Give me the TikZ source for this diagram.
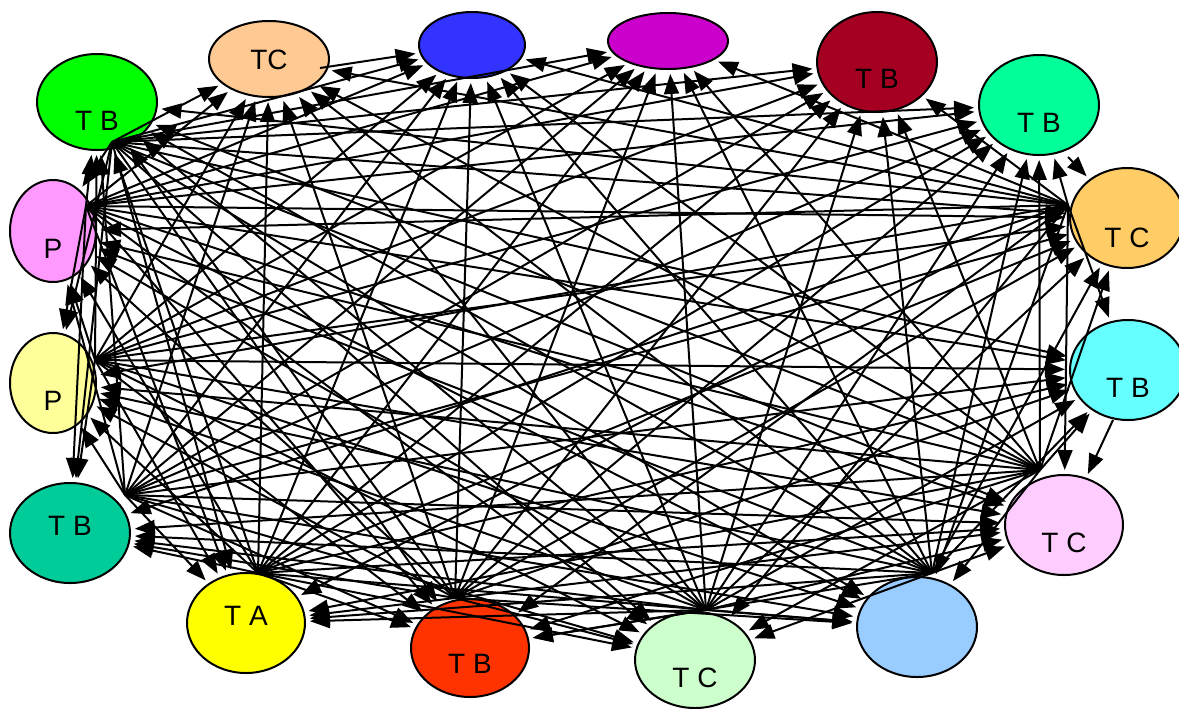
\documentclass[tikz,border=0pt]{standalone}
\usepackage{fontspec}
\setmainfont{Liberation Sans}
\usetikzlibrary{shapes.geometric,arrows.meta}
% text lowered by #1 pt below the node centre, taking no vertical space
\newcommand\lowered[2]{\raisebox{-#1pt}[0pt][0pt]{#2}}
\definecolor{cA}{HTML}{FFC993}
\definecolor{cB}{HTML}{3333FF}
\definecolor{cC}{HTML}{CC00CC}
\definecolor{cD}{HTML}{A50021}
\definecolor{cE}{HTML}{00FF99}
\definecolor{cF}{HTML}{FFCC66}
\definecolor{cG}{HTML}{66FFFF}
\definecolor{cH}{HTML}{FFCCFF}
\definecolor{cI}{HTML}{99CCFF}
\definecolor{cJ}{HTML}{CCFFCC}
\definecolor{cK}{HTML}{FF3300}
\definecolor{cL}{HTML}{FFFF00}
\definecolor{cM}{HTML}{00CC99}
\definecolor{cN}{HTML}{FFFF99}
\definecolor{cO}{HTML}{FF99FF}
\definecolor{cP}{HTML}{00FF00}
\begin{document}
\begin{tikzpicture}[x=0.5pt,y=-0.5pt,
  vtx/.style={ellipse,draw=black,line width=1pt,inner sep=0pt,
    font=\fontsize{14}{14}\selectfont},
  link/.style={-{Triangle[length=10pt,width=7.5pt]},line width=1pt,
    shorten >=2pt}]
\useasboundingbox (0,0) rectangle (1179,708);

% vertices
\node[vtx,fill=cA,minimum width=60pt,minimum height=38pt] (a) at (269,59) {\lowered{5}{TC}};
\node[vtx,fill=cB,minimum width=53pt,minimum height=33pt] (b) at (472,45) {};
\node[vtx,fill=cC,minimum width=60pt,minimum height=28pt] (c) at (668,41) {};
\node[vtx,fill=cD,minimum width=60pt,minimum height=50pt] (d) at (877,62) {\lowered{13}{T B}};
\node[vtx,fill=cE,minimum width=60pt,minimum height=50pt] (e) at (1039,105) {\lowered{13.5}{T B}};
\node[vtx,fill=cF,minimum width=57pt,minimum height=50pt] (f) at (1127,218) {\lowered{14.5}{T C}};
\node[vtx,fill=cG,minimum width=58pt,minimum height=50pt] (g) at (1128,370) {\lowered{13.5}{T B}};
\node[vtx,fill=cH,minimum width=59pt,minimum height=50pt] (h) at (1064,525) {\lowered{13.5}{T C}};
\node[vtx,fill=cI,minimum width=60pt,minimum height=50pt] (i) at (917,627) {};
\node[vtx,fill=cJ,minimum width=60pt,minimum height=48pt] (j) at (695,660) {\lowered{13.5}{T C}};
\node[vtx,fill=cK,minimum width=59pt,minimum height=49pt] (k) at (470,648) {\lowered{12.5}{T B}};
\node[vtx,fill=cL,minimum width=59pt,minimum height=50pt] (l) at (246,623) {\lowered{1}{T A}};
\node[vtx,fill=cM,minimum width=60pt,minimum height=50pt] (m) at (70,533) {\lowered{1}{T B}};
\node[vtx,fill=cN,minimum width=43pt,minimum height=50pt] (n) at (53,383) {\lowered{13.5}{P}};
\node[vtx,fill=cO,minimum width=43pt,minimum height=51pt] (o) at (53,231) {\lowered{13.5}{P}};
\node[vtx,fill=cP,minimum width=60pt,minimum height=48pt] (p) at (97,102) {\lowered{14}{T B}};

% points on each vertex where its outgoing edges leave
\coordinate (hp) at ([shift={(15,40)}]p.center);
\coordinate (ho) at ([shift={(33,-25)}]o.center);
\coordinate (hn) at ([shift={(42,-23)}]n.center);
\coordinate (hm) at ([shift={(55,-38)}]m.center);
\coordinate (hl) at ([shift={(12,-50)}]l.center);
\coordinate (hk) at ([shift={(-15,-50)}]k.center);
\coordinate (hj) at ([shift={(11,-50)}]j.center);
\coordinate (hi) at ([shift={(15,-54)}]i.center);
\coordinate (hh) at ([shift={(-24,-55)}]h.center);
\coordinate (hf) at ([shift={(-59,-13)}]f.center);
\coordinate (ha) at ([shift={(51,9)}]a.center);
\coordinate (he) at ([shift={(29,52)}]e.center);
\coordinate (hg) at ([shift={(-15,50)}]g.center);

% edges
\foreach \s/\ts in {
  hp/{a,b,c,d,e,f,g,h,i,j,k,l,m,n,o},
  ho/{a,b,c,d,e,f,g,h,i,j,k,l,m,n,p},
  hn/{a,b,c,d,e,f,g,h,i,j,k,l,m,o,p},
  hm/{a,b,c,d,e,f,g,h,i,j,k,l,n,o,p},
  hl/{a,b,c,d,e,f,g,h,i,j,k,m,n,o,p},
  hk/{a,b,c,d,e,f,g,h,i,j,l,m,n,o,p},
  hj/{a,b,c,d,e,f,g,h,i,k,l,m,n,o,p},
  hi/{a,b,c,d,e,f,g,h,j,k,l,m,n,o,p},
  hh/{a,b,c,d,e,f,g,i,j,k,l,m,n,o,p},
  hf/{a,b,c,d,e,g,h,i,j,k,l,m,n,o,p}}
  {\foreach \t in \ts {\draw[link] (\s) -- (\t);}}
\draw[link] (ha) -- (b);
\draw[link] (he) -- (f);
\draw[link] (hg) -- (h);
\end{tikzpicture}
\end{document}
